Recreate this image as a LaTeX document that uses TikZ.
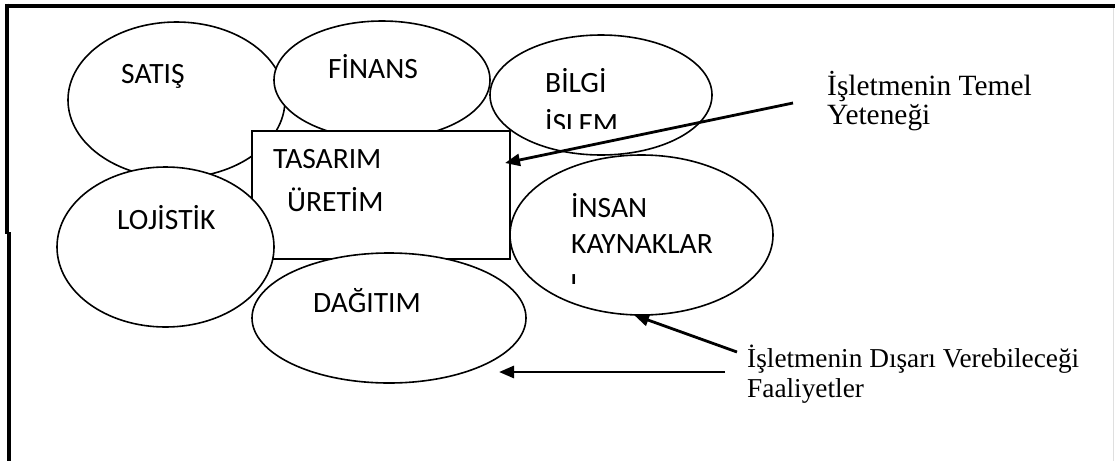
\documentclass[tikz,border=0pt]{standalone}
\usepackage{fontspec}
\setmainfont{Liberation Serif}
\newfontfamily\calfont{Carlito}
\usetikzlibrary{shapes.geometric,arrows.meta}
\tikzset{
  oval/.style={ellipse, draw=black, line width=1.6pt, fill=white, inner sep=0pt},
  box/.style={rectangle, draw=black, line width=1.6pt, fill=white, inner sep=0pt},
  ctext/.style={anchor=base west, inner sep=0pt, font=\calfont\fontsize{29.5}{34}\selectfont},
  ttext/.style={anchor=base west, inner sep=0pt, font=\fontsize{29.4}{34}\selectfont},
  stext/.style={anchor=base west, inner sep=0pt, font=\fontsize{27.3}{32}\selectfont},
  arr/.style={-{Triangle[length=15pt,width=12pt]}, line width=2.8pt},
  frame/.style={line width=4pt, black}
}
\begin{document}
\begin{tikzpicture}[x=1pt,y=-1pt]
\useasboundingbox (0,0) rectangle (1115,461);
% frame
\draw[frame] (5,5.5) -- (1115,5.5);
\draw[frame] (6.8,3.5) -- (6.8,234);
\draw[frame] (9.3,232) -- (9.3,461);
\draw[gray!25, line width=1pt] (1113.5,8) -- (1113.5,461);
% shapes
\node[oval, minimum width=217pt, minimum height=156pt] (satis) at (176.5,100) {};
\node[oval, minimum width=216pt, minimum height=118pt] (finans) at (382,80) {};
\node[oval, minimum width=222pt, minimum height=120pt] (bilgi) at (601,95) {};
\node[box, minimum width=258pt, minimum height=128pt] (rect) at (381,195) {};
\node[oval, minimum width=274pt, minimum height=130pt] (dagitim) at (389,318) {};
\node[oval, minimum width=217pt, minimum height=160pt] (lojistik) at (165.5,247) {};
\node[oval, minimum width=263pt, minimum height=160pt] (insan) at (641.5,235) {};
% texts
\node[ctext] (tsatis) at (121,83) {SATIŞ};
\node[ctext] (tfinans) at (328,78) {FİNANS};
\node[ctext] (tbilgi) at (545,92) {BİLGİ};
\begin{scope}
  \clip (500,100) rectangle (700,128);
  \node[ctext] (tislem) at (545,133) {İŞLEM};
\end{scope}
\node[ctext] (ttasarim) at (273,168) {TASARIM};
\node[ctext] (turetim) at (287,211) {ÜRETİM};
\node[ctext] (tlojistik) at (117,229) {LOJİSTİK};
\node[ctext] (tinsan) at (571,217) {İNSAN};
\node[ctext] (tkaynak) at (571,253) {KAYNAKLAR};
\begin{scope}
  \clip (560,260) rectangle (700,283);
  \node[ctext] (ti) at (570,293) {I};
\end{scope}
\node[ctext] (tdagitim) at (313,312) {DAĞITIM};
% labels
\node[ttext] (l1a) at (827,95) {İşletmenin Temel};
\node[ttext] (l1b) at (827,124) {Yeteneği};
\node[stext] (l2a) at (747,367) {İşletmenin Dışarı Verebileceği};
\node[stext] (l2b) at (747,397) {Faaliyetler};
% arrows
\coordinate (a1s) at (793,103);
\coordinate (a1e) at (505,163);
\coordinate (a2s) at (737,352);
\coordinate (a2e) at (634,315);
\coordinate (a3s) at (725,372);
\coordinate (a3e) at (499,372);
\draw[arr] (a1s) -- (a1e);
\draw[arr] (a2s) -- (a2e);
\draw[arr] (a3s) -- (a3e);
\end{tikzpicture}
\end{document}
